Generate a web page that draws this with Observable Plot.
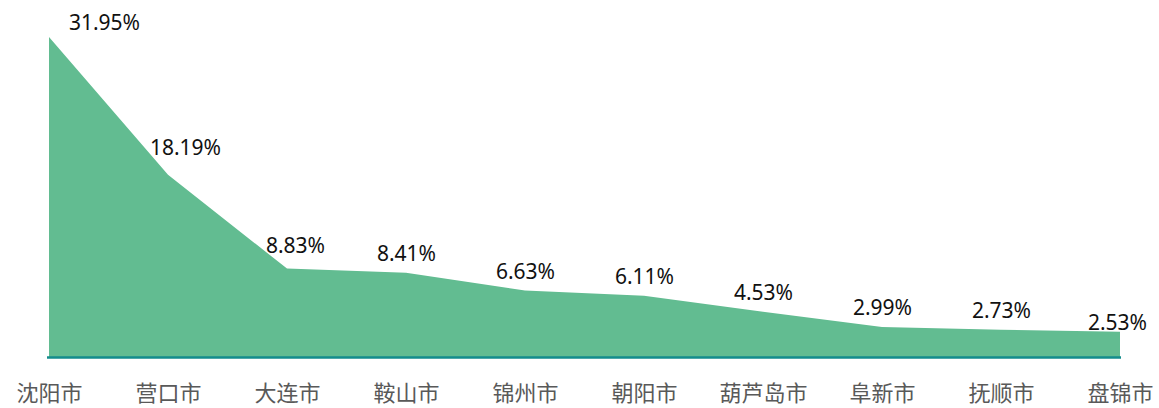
<!DOCTYPE html>
<html>
<head>
<meta charset="utf-8">
<script src="https://cdn.jsdelivr.net/npm/d3@7"></script>
<script src="https://cdn.jsdelivr.net/npm/@observablehq/plot@0.6"></script>
<style>
html, body { margin: 0; padding: 0; background: #fff; }
</style>
</head>
<body>
<div id="chart"></div>
<script>
const cities = ["沈阳市", "营口市", "大连市", "鞍山市", "锦州市", "朝阳市", "葫芦岛市", "阜新市", "抚顺市", "盘锦市"];
const shares = [31.95, 18.19, 8.83, 8.41, 6.63, 6.11, 4.53, 2.99, 2.73, 2.53];
const labels = ["31.95%", "18.19%", "8.83%", "8.41%", "6.63%", "6.11%", "4.53%", "2.99%", "2.73%", "2.53%"];

const data = cities.map((c, i) => ({city: c, value: shares[i], label: labels[i], i}));

const labelOffsets = {0: [55, -14], 1: [17, -27], 2: [8, -23], 9: [-3, -9]};
const textMarks = [];
data.forEach(d => {
  const [dx, dy] = labelOffsets[d.i] || [0, -19];
  textMarks.push(Plot.text([d], {
    x: "city", y: "value", text: "label", dx, dy,
    fontSize: 21, fill: "#111", fontFamily: "Noto Sans"
  }));
});

const chart = Plot.plot({
  width: 1159,
  height: 408,
  marginLeft: 47,
  marginRight: 38,
  marginTop: 37,
  marginBottom: 51,
  style: {fontFamily: "'Noto Sans CJK SC', sans-serif", background: "#fff"},
  x: {type: "point", domain: cities, padding: 0, label: null},
  y: {domain: [0, 31.95], axis: null},
  marks: [
    Plot.areaY(data, {x: "city", y: "value", fill: "#62BC91", curve: "linear"}),
    Plot.ruleY([0], {stroke: "#138C8C", strokeWidth: 2.5}),
    Plot.axisX({tickSize: 0, tickPadding: 28, fontSize: 22, fill: "#595959", fontFamily: "'Noto Sans CJK SC', sans-serif"}),
    ...textMarks
  ]
});
document.getElementById("chart").appendChild(chart);
</script>
</body>
</html>
